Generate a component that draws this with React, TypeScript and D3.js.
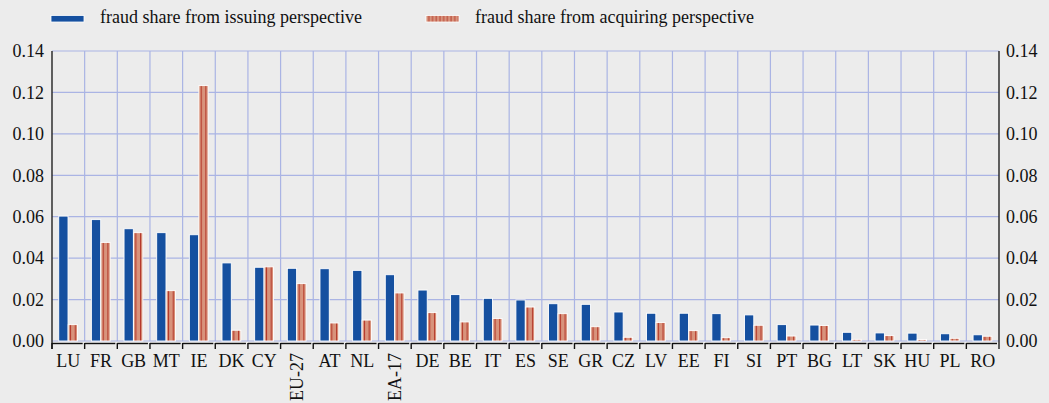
import React, { useEffect } from "react";
import * as d3 from "d3";

const categories = ["LU","FR","GB","MT","IE","DK","CY","EU-27","AT","NL","EA-17","DE","BE","IT","ES","SE","GR","CZ","LV","EE","FI","SI","PT","BG","LT","SK","HU","PL","RO"];
const issuing = [0.0603,0.0586,0.0542,0.0523,0.0513,0.0377,0.0356,0.0351,0.0349,0.0341,0.0320,0.0246,0.0224,0.0206,0.0198,0.0180,0.0177,0.0140,0.0134,0.0134,0.0132,0.0126,0.0079,0.0077,0.0042,0.0039,0.0038,0.0035,0.0030];
const acquiring = [0.0079,0.0476,0.0523,0.0243,0.1233,0.0052,0.0358,0.0277,0.0087,0.0101,0.0232,0.0137,0.0092,0.0109,0.0164,0.0132,0.0069,0.0018,0.0089,0.0050,0.0016,0.0076,0.0024,0.0075,0.0008,0.0026,0.0007,0.0013,0.0023];
const yTicks = [0, 0.02, 0.04, 0.06, 0.08, 0.10, 0.12, 0.14];
const seriesNames = ["fraud share from issuing perspective", "fraud share from acquiring perspective"];
const rotated = ["EU-27", "EA-17"];

const W = 1049, H = 403;
const L = 52, R = 999, T = 51, B = 341;
const BLUE = "#1550a0";
const SALMON = "#d8937c";
const STRIPE = "#b5382a";
const GRID = "#aab4e4";
const FONT = "Liberation Serif, Times New Roman, Times, serif";

export default function App() {
  useEffect(() => {
    document.body.style.margin = "0";
  }, []);

  const x = d3.scaleBand<string>().domain(categories).range([L, R]).paddingInner(0).paddingOuter(0);
  const y = d3.scaleLinear().domain([0, 0.14]).range([B, T]);
  const bw = x.bandwidth();
  const barW = 9.3;

  return (
    <svg width={W} height={H} style={{ display: "block", background: "#ececec" }}>
      <defs>
        <pattern id="barStripe" patternUnits="objectBoundingBox" patternContentUnits="objectBoundingBox" width="0.5" height="1">
          <rect x="0" y="0" width="0.5" height="1" fill={SALMON} />
          <rect x="0.2" y="0" width="0.11" height="1" fill={STRIPE} />
        </pattern>
        <pattern id="legStripe" patternUnits="userSpaceOnUse" x="426" y="0" width="3.7" height="10">
          <rect x="0" y="0" width="3.7" height="10" fill={SALMON} />
          <rect x="2.4" y="0" width="0.9" height="10" fill={STRIPE} />
        </pattern>
      </defs>
      <rect x={0} y={0} width={W} height={H} fill="#ececec" />

      {/* legend */}
      <rect x={51} y={15.5} width={33} height={6.5} fill={BLUE} stroke="#fff" strokeWidth={0.8} />
      <text x={100} y={23} fontSize={18} fontFamily={FONT} fill="#111">{seriesNames[0]}</text>
      <rect x={426} y={15.5} width={33} height={6.5} fill="url(#legStripe)" stroke="#fff" strokeWidth={0.8} />
      <text x={475} y={23} fontSize={18} fontFamily={FONT} fill="#111">{seriesNames[1]}</text>

      {/* grid */}
      {yTicks.map((t) => (
        <line key={"h" + t} x1={L} x2={R} y1={y(t)} y2={y(t)} stroke={GRID} strokeWidth={1.2} />
      ))}
      {categories.slice(1).map((c) => (
        <line key={"v" + c} x1={x(c)!} x2={x(c)!} y1={T} y2={B} stroke={GRID} strokeWidth={1.2} />
      ))}

      {/* bars */}
      {categories.map((c, i) => {
        const cx = x(c)! + bw / 2;
        return (
          <g key={"b" + c}>
            <rect x={cx - barW - 0.3} y={y(issuing[i])} width={barW} height={B - y(issuing[i])} fill={BLUE} stroke="#fff" strokeWidth={0.9} />
            <rect x={cx - 0.1} y={y(acquiring[i])} width={barW} height={B - y(acquiring[i])} fill="url(#barStripe)" stroke="#fff" strokeWidth={0.9} />
          </g>
        );
      })}

      {/* axes */}
      <line x1={L} x2={L} y1={T} y2={349} stroke="#222" strokeWidth={1.4} />
      <line x1={R} x2={R} y1={T} y2={349} stroke="#222" strokeWidth={1.4} />
      {categories.map((c) => (
        <g key={"t" + c}>
          <line x1={x(c)!} x2={x(c)! + bw - 2} y1={343.5} y2={343.5} stroke="#111" strokeWidth={1.4} />
          <line x1={x(c)!} x2={x(c)!} y1={343} y2={349} stroke="#111" strokeWidth={1.4} />
        </g>
      ))}

      {/* y tick labels */}
      {yTicks.map((t) => (
        <g key={"yl" + t}>
          <text x={44} y={y(t)} dy="0.35em" textAnchor="end" fontSize={18} fontFamily={FONT} fill="#111">{t.toFixed(2)}</text>
          <text x={1006} y={y(t)} dy="0.35em" textAnchor="start" fontSize={18} fontFamily={FONT} fill="#111">{t.toFixed(2)}</text>
        </g>
      ))}

      {/* category labels */}
      {categories.map((c) => {
        const cx = x(c)! + bw / 2;
        if (rotated.includes(c)) {
          return (
            <text key={"c" + c} transform={`translate(${cx + 6},353) rotate(-90)`} textAnchor="end" fontSize={18} fontFamily={FONT} fill="#111">{c}</text>
          );
        }
        return (
          <text key={"c" + c} x={cx} y={367} textAnchor="middle" fontSize={18} fontFamily={FONT} fill="#111">{c}</text>
        );
      })}
    </svg>
  );
}
